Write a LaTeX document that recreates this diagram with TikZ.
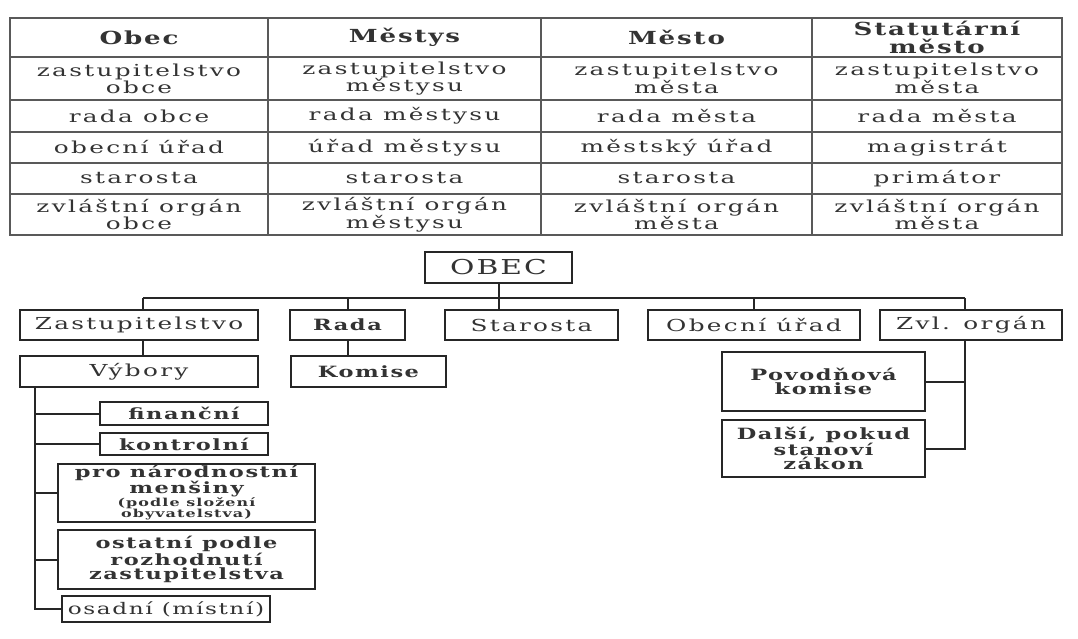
\documentclass[tikz,border=0pt]{standalone}
\usepackage{fontspec}
\setmainfont{DejaVu Serif}[FakeStretch=1.45,LetterSpace=10]
\newfontfamily\bodyfont{DejaVu Serif}[FakeStretch=1.5,LetterSpace=14]
\begin{document}
\begin{tikzpicture}[x=1pt,y=-1pt,
  cell/.style={draw=black!65,line width=1.5pt,inner sep=0pt,align=center,text=black!80},
  hdr/.style={cell,font=\fontsize{18}{18}\selectfont\bfseries},
  bdy/.style={cell,font=\bodyfont\fontsize{16.5}{13.8}\selectfont},
  bx/.style={draw=black!85,line width=2pt,inner sep=0pt,align=center,text=black!80,font=\bodyfont\fontsize{16.5}{13.8}\selectfont},
  bbx/.style={bx,font=\fontsize{15.5}{14}\selectfont\bfseries},
  ln/.style={draw=black!85,line width=2pt}]
\useasboundingbox (0,0) rectangle (1078,639);
% ---------- table ----------
\def\cellat#1#2#3#4#5#6#7{% name, x1, x2, y1, y2, style, text
  \node[#6,minimum width={#3-#2},minimum height={#5-#4}] (#1) at ({(#2+#3)/2},{(#4+#5)/2}) {#7};}
\cellat{h1}{10}{268}{18}{57}{hdr}{Obec}
\cellat{h2}{268}{541}{18}{57}{hdr}{Městys}
\cellat{h3}{541}{812}{18}{57}{hdr}{Město}
\cellat{h4}{812}{1062}{18}{57}{hdr}{Statutární\\město}
\cellat{a1}{10}{268}{57}{100}{bdy}{zastupitelstvo\\obce}
\cellat{a2}{268}{541}{57}{100}{bdy}{zastupitelstvo\\městysu}
\cellat{a3}{541}{812}{57}{100}{bdy}{zastupitelstvo\\města}
\cellat{a4}{812}{1062}{57}{100}{bdy}{zastupitelstvo\\města}
\cellat{b1}{10}{268}{100}{132}{bdy}{rada obce}
\cellat{b2}{268}{541}{100}{132}{bdy}{rada městysu}
\cellat{b3}{541}{812}{100}{132}{bdy}{rada města}
\cellat{b4}{812}{1062}{100}{132}{bdy}{rada města}
\cellat{c1}{10}{268}{132}{163}{bdy}{obecní úřad}
\cellat{c2}{268}{541}{132}{163}{bdy}{úřad městysu}
\cellat{c3}{541}{812}{132}{163}{bdy}{městský úřad}
\cellat{c4}{812}{1062}{132}{163}{bdy}{magistrát}
\cellat{d1}{10}{268}{163}{194}{bdy}{starosta}
\cellat{d2}{268}{541}{163}{194}{bdy}{starosta}
\cellat{d3}{541}{812}{163}{194}{bdy}{starosta}
\cellat{d4}{812}{1062}{163}{194}{bdy}{primátor}
\cellat{e1}{10}{268}{194}{235}{bdy}{zvláštní orgán\\obce}
\cellat{e2}{268}{541}{194}{235}{bdy}{zvláštní orgán\\městysu}
\cellat{e3}{541}{812}{194}{235}{bdy}{zvláštní orgán\\města}
\cellat{e4}{812}{1062}{194}{235}{bdy}{zvláštní orgán\\města}
% ---------- chart ----------
\cellat{obec}{425}{572}{252}{283}{bx,font=\fontsize{20.5}{20}\selectfont}{OBEC}
\cellat{zast}{20}{258}{310}{340}{bx}{Zastupitelstvo}
\cellat{rada}{290}{405}{310}{340}{bbx}{Rada}
\cellat{star}{445}{618}{310}{340}{bx}{Starosta}
\cellat{urad}{648}{860}{310}{340}{bx}{Obecní úřad}
\cellat{zvl}{880}{1062}{310}{340}{bx}{Zvl. orgán}
\cellat{vyb}{20}{258}{356}{387}{bx}{Výbory}
\cellat{kom}{291}{446}{356}{387}{bbx}{Komise}
\cellat{fin}{100}{268}{402}{425}{bbx}{finanční}
\cellat{kon}{100}{268}{433}{455}{bbx}{kontrolní}
\cellat{nar}{58}{315}{464}{522}{bbx}{pro národnostní\\menšiny\\[-1pt]{\fontsize{11}{11}\selectfont\begin{tabular}{@{}c@{}}(podle složení\\obyvatelstva)\end{tabular}}}
\cellat{ost}{58}{315}{530}{589}{bbx}{ostatní podle\\rozhodnutí\\zastupitelstva}
\cellat{osa}{62}{270}{596}{622}{bx,font=\fontsize{16}{14}\selectfont}{osadní (místní)}
\cellat{pov}{722}{925}{352}{411}{bbx}{Povodňová\\komise}
\cellat{dal}{722}{925}{420}{477}{bbx}{Další, pokud\\stanoví\\zákon}
\coordinate (barL) at (143,298);
\coordinate (barR) at (965,298);
\coordinate (sp) at (35,387);
\coordinate (zsp) at (965,340);
\draw[ln] (barL) -- (barR);
\draw[ln] (obec.south) -- (obec.south |- star.north);
\draw[ln] (barL) -- (barL |- zast.north);
\draw[ln] (rada.north) -- (rada.north |- barL);
\draw[ln] (barL |- zast.south) -- (barL |- vyb.north);
\draw[ln] (rada.south) -- (rada.south |- kom.north);
\draw[ln] (urad.north) -- (urad.north |- barL);
\draw[ln] (barR) -- (barR |- zvl.north);
\draw[ln] (sp) |- (osa.west);
\draw[ln] (sp |- fin.west) -- (fin.west);
\draw[ln] (sp |- kon.west) -- (kon.west);
\draw[ln] (sp |- nar.west) -- (nar.west);
\draw[ln] (sp |- ost.west) -- (ost.west);
\draw[ln] (zsp) |- (dal.east);
\draw[ln] (zsp |- pov.east) -- (pov.east);
\end{tikzpicture}
\end{document}
